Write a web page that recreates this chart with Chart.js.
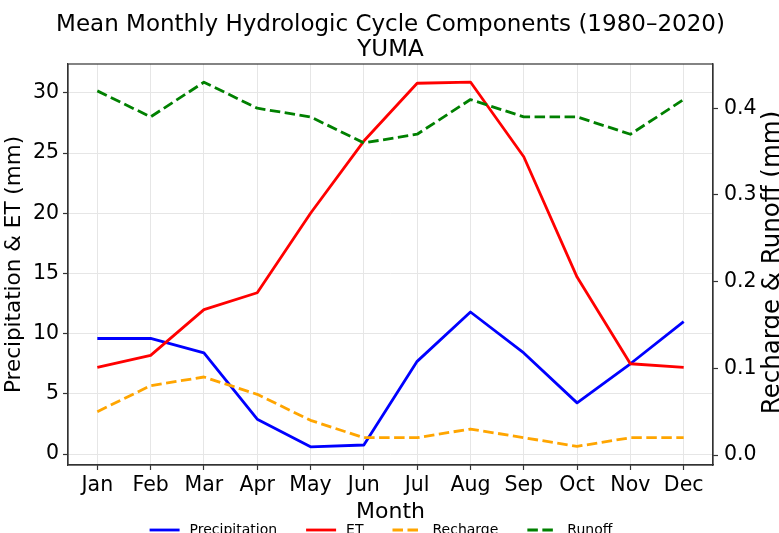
<!DOCTYPE html>
<html>
<head>
<meta charset="utf-8">
<script src="https://cdn.jsdelivr.net/npm/chart.js@4.4.1/dist/chart.umd.min.js"></script>
<style>
  html, body { margin: 0; padding: 0; background: #fff; }
  #wrap { width: 779px; height: 533px; position: relative; }
</style>
</head>
<body>
<div id="wrap"><canvas id="c" width="779" height="533"></canvas></div>
<script>
const months = ['Jan','Feb','Mar','Apr','May','Jun','Jul','Aug','Sep','Oct','Nov','Dec'];
const precipitation = [9.6, 9.6, 8.4, 2.9, 0.6, 0.75, 7.7, 11.8, 8.4, 4.25, 7.5, 11.0];
const et = [7.2, 8.2, 12.0, 13.4, 20.0, 26.0, 30.8, 30.9, 24.7, 14.7, 7.5, 7.2];
const recharge = [0.05, 0.08, 0.09, 0.07, 0.04, 0.02, 0.02, 0.03, 0.02, 0.01, 0.02, 0.02];
const runoff = [0.42, 0.39, 0.43, 0.40, 0.39, 0.36, 0.37, 0.41, 0.39, 0.39, 0.37, 0.41];
const leftTicks = [0, 5, 10, 15, 20, 25, 30];
const rightTicks = [0.0, 0.1, 0.2, 0.3, 0.4];
const titleLines = ['Mean Monthly Hydrologic Cycle Components (1980\u20132020)', 'YUMA'];
const xTitle = 'Month';
const yLeftTitle = 'Precipitation & ET (mm)';
const yRightTitle = 'Recharge & Runoff (mm)';

const FONT = '"DejaVu Sans", "Liberation Sans", sans-serif';
const DASH = [10.5, 4.5];
const LW = 2.8;

const toPts = arr => arr.map((v, i) => ({x: i, y: v}));

const datasets = [
  {label: 'Precipitation', data: toPts(precipitation), borderColor: '#0000ff', yAxisID: 'y', order: 4, dash: []},
  {label: 'ET', data: toPts(et), borderColor: '#ff0000', yAxisID: 'y', order: 3, dash: []},
  {label: 'Recharge', data: toPts(recharge), borderColor: '#ffa500', yAxisID: 'y1', order: 2, dash: DASH},
  {label: 'Runoff', data: toPts(runoff), borderColor: '#008000', yAxisID: 'y1', order: 1, dash: DASH}
].map(d => ({
  label: d.label, data: d.data, borderColor: d.borderColor, backgroundColor: d.borderColor,
  yAxisID: d.yAxisID, order: d.order, borderDash: d.dash, borderWidth: LW,
  pointRadius: 0, tension: 0, fill: false, borderCapStyle: 'butt', borderJoinStyle: 'round'
}));

const extras = {
  id: 'extras',
  afterDraw(chart) {
    const ctx = chart.ctx;
    const a = chart.chartArea;
    ctx.save();
    // frame
    ctx.strokeStyle = '#333';
    ctx.lineWidth = 1.2;
    ctx.setLineDash([]);
    ctx.strokeRect(a.left, a.top, a.right - a.left, a.bottom - a.top);
    // title
    ctx.fillStyle = '#000';
    ctx.font = '23px ' + FONT;
    ctx.textAlign = 'center';
    ctx.textBaseline = 'alphabetic';
    const cx = (a.left + a.right) / 2;
    ctx.fillText(titleLines[0], cx, 31);
    ctx.fillText(titleLines[1], cx, 56);
    // right axis title
    ctx.save();
    ctx.translate(778.5, (a.top + a.bottom) / 2 - 2);
    ctx.rotate(-Math.PI / 2);
    ctx.font = '24.5px ' + FONT;
    ctx.textAlign = 'center';
    ctx.textBaseline = 'alphabetic';
    ctx.fillText(yRightTitle, 0, 0);
    ctx.restore();
    // legend
    ctx.font = '14px ' + FONT;
    ctx.textAlign = 'left';
    ctx.textBaseline = 'middle';
    const handle = 30, gapText = 10, gapItem = 29;
    const items = chart.data.datasets.map(ds => ({ds, w: ctx.measureText(ds.label).width}));
    let total = items.reduce((s, it) => s + handle + gapText + it.w, 0) + gapItem * (items.length - 1);
    let x = 381 - total / 2;
    const ly = 530;
    items.forEach(it => {
      ctx.strokeStyle = it.ds.borderColor;
      ctx.lineWidth = LW;
      ctx.setLineDash(it.ds.borderDash || []);
      ctx.beginPath();
      ctx.moveTo(x, ly);
      ctx.lineTo(x + handle, ly);
      ctx.stroke();
      ctx.setLineDash([]);
      ctx.fillStyle = '#000';
      ctx.fillText(it.ds.label, x + handle + gapText, ly);
      x += handle + gapText + it.w + gapItem;
    });
    ctx.restore();
  }
};

const gridColor = '#e6e6e6';
const tickFont = {family: FONT, size: 20.5};
const titleFont = {family: FONT, size: 22};

new Chart(document.getElementById('c'), {
  type: 'line',
  data: {datasets},
  plugins: [extras],
  options: {
    responsive: false,
    animation: false,
    devicePixelRatio: 1,
    layout: {padding: {top: 64, left: 0, right: 0, bottom: 0}},
    plugins: {legend: {display: false}, title: {display: false}, tooltip: {enabled: false}},
    scales: {
      x: {
        type: 'linear', min: -0.55, max: 11.55,
        afterBuildTicks: s => { s.ticks = months.map((m, i) => ({value: i})); },
        afterFit: s => { s.height = 68; },
        ticks: {callback: v => months[v], font: tickFont, color: '#000', padding: 3, maxRotation: 0, autoSkip: false},
        grid: {color: gridColor, lineWidth: 1, tickLength: 5, tickColor: '#333', tickWidth: 1.2},
        border: {display: true, color: '#333', width: 1.2},
        title: {display: true, text: xTitle, font: titleFont, color: '#000', padding: {top: 0, bottom: 8}}
      },
      y: {
        position: 'left', min: -0.91, max: 32.4,
        afterBuildTicks: s => { s.ticks = leftTicks.map(v => ({value: v})); },
        afterFit: s => { s.width = 68; },
        ticks: {callback: v => String(v), font: tickFont, color: '#000', padding: 4},
        grid: {color: gridColor, lineWidth: 1, tickLength: 5, tickColor: '#333', tickWidth: 1.2},
        border: {display: true, color: '#333', width: 1.2},
        title: {display: true, text: yLeftTitle, font: {family: FONT, size: 21.5}, color: '#000', padding: {top: 2, bottom: 0}}
      },
      y1: {
        position: 'right', min: -0.0115, max: 0.451,
        afterBuildTicks: s => { s.ticks = rightTicks.map(v => ({value: v})); },
        afterFit: s => { s.width = 66; },
        ticks: {callback: v => Number(v).toFixed(1), font: tickFont, color: '#000', padding: 6},
        grid: {drawOnChartArea: false, tickLength: 5, tickColor: '#333', tickWidth: 1.2, color: '#333'},
        border: {display: true, color: '#333', width: 1.2},
        title: {display: false}
      }
    }
  }
});
</script>
</body>
</html>
